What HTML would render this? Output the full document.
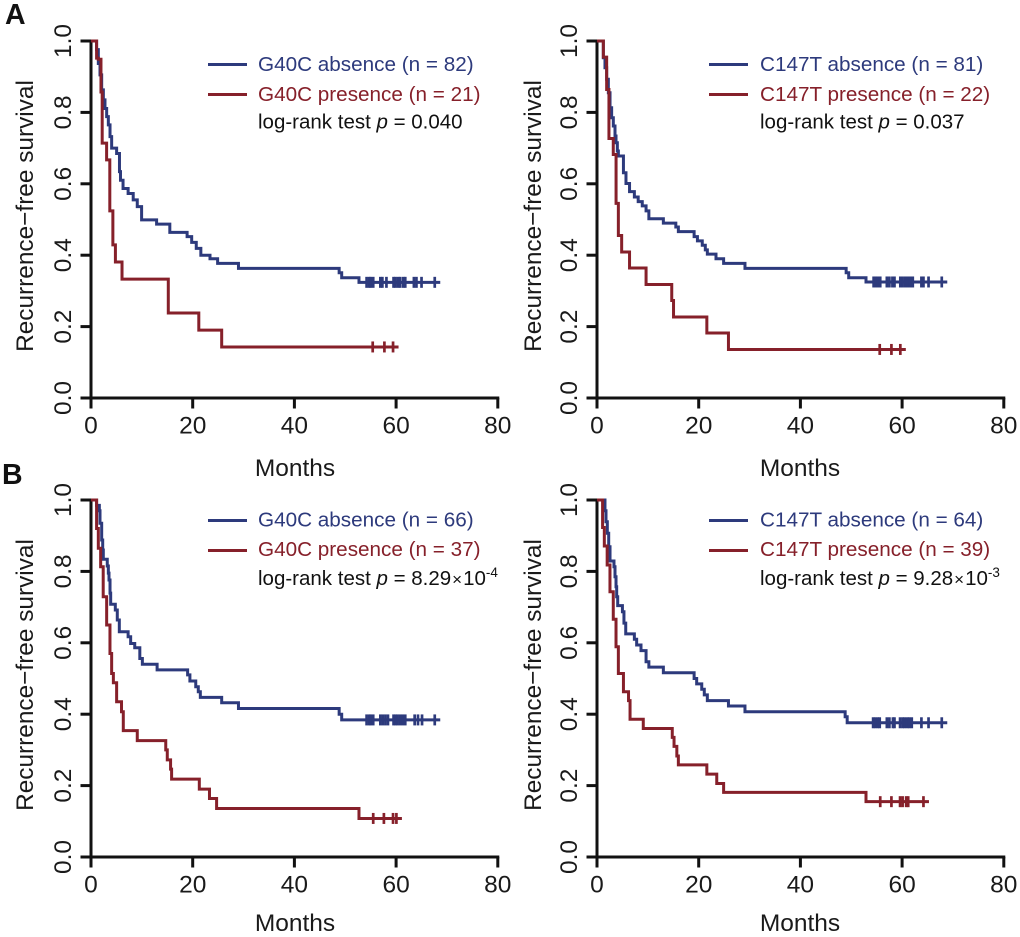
<!DOCTYPE html>
<html lang="en">
<head>
<meta charset="utf-8">
<title>Recurrence-free survival curves</title>
<style>
  html, body { margin: 0; padding: 0; background: #ffffff; }
  svg { display: block; font-family: "Liberation Sans", Arial, sans-serif; }
  .tick-label { font-size: 24.5px; fill: #1a1a1a; }
  .axis-title { font-size: 24.5px; fill: #1a1a1a; }
  .y-title { font-size: 24.4px; fill: #1a1a1a; }
  .legend { font-size: 20.7px; }
  .blue-text { fill: #2d3a7c; }
  .red-text { fill: #86202a; }
  .stat { font-size: 20.5px; fill: #111111; }
  .panel-letter { font-size: 28.5px; font-weight: bold; fill: #111111; }
</style>
</head>
<body>
<svg id="figure" xmlns="http://www.w3.org/2000/svg" width="1020" height="937" viewBox="0 0 1020 937">
  <rect x="0" y="0" width="1020" height="937" fill="#ffffff"/>
  <text class="panel-letter" x="5" y="24">A</text>
  <text class="panel-letter" x="2" y="484">B</text>

  <g id="panel-a-left">
    <text class="y-title" transform="translate(33,216) rotate(-90)" text-anchor="middle">Recurrence−free survival</text>
    <text class="axis-title" x="295" y="476" text-anchor="middle">Months</text>
    <line x1="208" x2="247" y1="64.5" y2="64.5" stroke="#2d3a7c" stroke-width="3"/>
    <line x1="208" x2="247" y1="94.5" y2="94.5" stroke="#86202a" stroke-width="3"/>
    <text class="legend blue-text" x="258" y="71">G40C absence (n = 82)</text>
    <text class="legend red-text" x="258" y="101">G40C presence (n = 21)</text>
    <text class="stat" x="258" y="128.5">log-rank test <tspan font-style="italic">p</tspan> = 0.040</text>
  </g>

  <g id="panel-a-right">
    <text class="y-title" transform="translate(541,216) rotate(-90)" text-anchor="middle">Recurrence−free survival</text>
    <text class="axis-title" x="800" y="476" text-anchor="middle">Months</text>
    <line x1="709" x2="748" y1="64.5" y2="64.5" stroke="#2d3a7c" stroke-width="3"/>
    <line x1="709" x2="748" y1="94.5" y2="94.5" stroke="#86202a" stroke-width="3"/>
    <text class="legend blue-text" x="760" y="71">C147T absence (n = 81)</text>
    <text class="legend red-text" x="760" y="101">C147T presence (n = 22)</text>
    <text class="stat" x="760" y="128.5">log-rank test <tspan font-style="italic">p</tspan> = 0.037</text>
  </g>

  <g id="panel-b-left">
    <text class="y-title" transform="translate(33,675) rotate(-90)" text-anchor="middle">Recurrence−free survival</text>
    <text class="axis-title" x="295" y="931" text-anchor="middle">Months</text>
    <line x1="208" x2="247" y1="520.5" y2="520.5" stroke="#2d3a7c" stroke-width="3"/>
    <line x1="208" x2="247" y1="550.5" y2="550.5" stroke="#86202a" stroke-width="3"/>
    <text class="legend blue-text" x="258" y="526.5">G40C absence (n = 66)</text>
    <text class="legend red-text" x="258" y="556">G40C presence (n = 37)</text>
    <text class="stat" x="258" y="585">log-rank test <tspan font-style="italic">p</tspan> = 8.29<tspan font-size="17" dx="1">×</tspan><tspan dx="1">10</tspan><tspan font-size="13.5" dy="-8">-4</tspan></text>
  </g>

  <g id="panel-b-right">
    <text class="y-title" transform="translate(541,675) rotate(-90)" text-anchor="middle">Recurrence−free survival</text>
    <text class="axis-title" x="800" y="931" text-anchor="middle">Months</text>
    <line x1="709" x2="748" y1="520.5" y2="520.5" stroke="#2d3a7c" stroke-width="3"/>
    <line x1="709" x2="748" y1="550.5" y2="550.5" stroke="#86202a" stroke-width="3"/>
    <text class="legend blue-text" x="760" y="526.5">C147T absence (n = 64)</text>
    <text class="legend red-text" x="760" y="556">C147T presence (n = 39)</text>
    <text class="stat" x="760" y="585">log-rank test <tspan font-style="italic">p</tspan> = 9.28<tspan font-size="17" dx="1">×</tspan><tspan dx="1">10</tspan><tspan font-size="13.5" dy="-8">-3</tspan></text>
  </g>
</svg>

<script>
// Axis tick labels
var xTickValues = [0, 20, 40, 60, 80];
var yTickValues = [0.0, 0.2, 0.4, 0.6, 0.8, 1.0];
var yTickLabels = ['0.0', '0.2', '0.4', '0.6', '0.8', '1.0'];

// Panel A, G40C: absence
var aLeftBlueTimes = [1.1, 1.44, 1.77, 2.1, 2.43, 2.75, 3.08, 3.41, 3.74, 4.06, 5.04, 5.6, 5.8, 6.3, 7.3, 8.3, 9.1, 9.95, 12.9, 15.5, 18.9, 19.8, 20.7, 21.6, 23.4, 24.9, 29.0, 48.8, 49.3, 52.7];
var aLeftBlueSurv = [0.976, 0.937, 0.905, 0.863, 0.835, 0.811, 0.788, 0.765, 0.732, 0.70, 0.685, 0.634, 0.61, 0.587, 0.573, 0.555, 0.536, 0.499, 0.487, 0.464, 0.452, 0.436, 0.419, 0.40, 0.39, 0.377, 0.363, 0.351, 0.337, 0.324];
var aLeftBlueCensor = [54.2, 54.7, 55.0, 55.5, 56.9, 57.3, 58.1, 59.5, 59.9, 60.4, 60.8, 61.4, 61.8, 63.5, 64.0, 65.0, 67.6];
// Panel A, G40C: presence
var aLeftRedTimes = [1.1, 1.44, 1.96, 2.2, 3.07, 3.7, 4.3, 4.8, 6.1, 15.2, 21.2, 25.7];
var aLeftRedSurv = [0.952, 0.949, 0.857, 0.714, 0.667, 0.524, 0.429, 0.381, 0.333, 0.238, 0.19, 0.143];
var aLeftRedCensor = [55.4, 57.7, 59.4];

// Panel A, C147T: absence
var aRightBlueTimes = [1.24, 1.57, 1.9, 2.23, 2.56, 2.88, 3.21, 3.54, 3.74, 4.0, 4.2, 5.2, 5.7, 6.4, 7.35, 8.1, 8.9, 9.65, 10.2, 13.05, 15.5, 16.0, 19.1, 19.75, 20.7, 21.3, 21.7, 23.4, 24.9, 29.1, 49.0, 49.5, 52.9];
var aRightBlueSurv = [0.953, 0.925, 0.893, 0.855, 0.813, 0.785, 0.762, 0.734, 0.715, 0.692, 0.678, 0.631, 0.601, 0.578, 0.563, 0.55, 0.538, 0.524, 0.502, 0.49, 0.479, 0.466, 0.452, 0.44, 0.428, 0.415, 0.403, 0.39, 0.377, 0.363, 0.351, 0.337, 0.325];
var aRightBlueCensor = [54.4, 54.85, 55.25, 55.7, 57.0, 57.5, 58.1, 58.5, 59.65, 60.1, 60.6, 61.1, 61.6, 62.1, 63.8, 64.2, 65.2, 67.8];
// Panel A, C147T: presence
var aRightRedTimes = [1.25, 1.9, 2.35, 3.2, 3.75, 4.2, 4.85, 6.4, 9.65, 14.7, 15.05, 21.6, 25.85];
var aRightRedSurv = [0.955, 0.864, 0.727, 0.682, 0.545, 0.455, 0.409, 0.364, 0.318, 0.273, 0.227, 0.182, 0.136];
var aRightRedCensor = [55.6, 57.9, 59.65];

// Panel B, G40C: absence
var bLeftBlueTimes = [1.1, 1.64, 1.77, 2.1, 2.3, 2.42, 3.2, 3.41, 3.54, 3.74, 3.87, 4.78, 5.17, 5.57, 7.3, 7.8, 8.6, 9.6, 10.1, 13.0, 19.0, 19.45, 20.6, 21.1, 21.5, 25.7, 29.0, 48.8, 49.3];
var bLeftBlueSurv = [0.985, 0.97, 0.935, 0.888, 0.86, 0.834, 0.815, 0.795, 0.776, 0.739, 0.708, 0.692, 0.664, 0.631, 0.617, 0.598, 0.586, 0.556, 0.54, 0.524, 0.51, 0.493, 0.477, 0.463, 0.447, 0.432, 0.416, 0.40, 0.384];
var bLeftBlueCensor = [54.2, 54.7, 55.0, 55.5, 56.9, 57.4, 57.9, 58.4, 59.5, 59.9, 60.3, 60.8, 61.3, 61.8, 63.65, 64.3, 65.1, 67.6];
// Panel B, G40C: presence
var bLeftRedTimes = [1.1, 1.44, 1.9, 2.4, 3.08, 3.73, 4.06, 4.4, 5.04, 6.0, 6.35, 9.1, 14.7, 15.0, 15.65, 15.85, 21.3, 23.3, 24.7, 52.7];
var bLeftRedSurv = [0.92, 0.865, 0.813, 0.729, 0.65, 0.57, 0.514, 0.488, 0.435, 0.407, 0.354, 0.326, 0.30, 0.272, 0.246, 0.218, 0.19, 0.164, 0.136, 0.108];
var bLeftRedCensor = [55.5, 57.6, 59.4, 60.06];

// Panel B, C147T: absence
var bRightBlueTimes = [1.57, 1.77, 2.03, 2.3, 2.56, 3.34, 3.54, 3.74, 3.87, 4.07, 5.0, 5.3, 5.65, 7.35, 7.8, 8.65, 9.65, 10.2, 13.05, 19.1, 19.6, 20.6, 21.1, 21.7, 25.85, 29.1, 48.8, 49.2];
var bRightBlueSurv = [0.97, 0.939, 0.907, 0.869, 0.829, 0.813, 0.785, 0.757, 0.729, 0.704, 0.687, 0.655, 0.625, 0.61, 0.594, 0.578, 0.547, 0.532, 0.516, 0.50, 0.485, 0.47, 0.454, 0.438, 0.423, 0.407, 0.393, 0.376];
var bRightBlueCensor = [54.3, 54.7, 55.2, 55.6, 57.0, 57.5, 58.2, 58.5, 59.6, 60.1, 60.5, 61.0, 61.4, 61.9, 63.8, 65.2, 67.8];
// Panel B, C147T: presence
var bRightRedTimes = [1.1, 1.44, 2.0, 2.55, 3.2, 3.74, 4.2, 5.2, 6.2, 6.5, 9.1, 14.8, 15.15, 15.7, 16.0, 21.6, 23.55, 24.9, 52.9];
var bRightRedSurv = [0.923, 0.871, 0.818, 0.743, 0.666, 0.589, 0.514, 0.463, 0.438, 0.386, 0.36, 0.335, 0.31, 0.283, 0.258, 0.232, 0.206, 0.181, 0.155];
var bRightRedCensor = [55.7, 57.9, 59.6, 60.1, 60.8, 61.2, 64.2];

var SVG_NS = 'http://www.w3.org/2000/svg';
var BLUE = '#2d3a7c';
var RED = '#86202a';
var AXIS = '#111111';

function make(tag, attrs, parent) {
  var node = document.createElementNS(SVG_NS, tag);
  for (var key in attrs) { node.setAttribute(key, attrs[key]); }
  parent.appendChild(node);
  return node;
}

function drawAxes(group, xScale, yScale) {
  var axisLeft = xScale(0);
  var axisBottom = yScale(0);

  var yLine = make('line', { x1: axisLeft, x2: axisLeft, y1: yScale(1) - 1.5, y2: axisBottom + 1.5, stroke: AXIS, 'stroke-width': 3 }, group);
  
  

  var xLine = make('line', { x1: axisLeft - 1.5, x2: xScale(80) + 1.5, y1: axisBottom, y2: axisBottom, stroke: AXIS, 'stroke-width': 3 }, group);
  
  

  xTickValues.forEach(function (value) {
    var tick = make('line', { x1: xScale(value), x2: xScale(value), y1: axisBottom, y2: axisBottom + 10.5, stroke: AXIS, 'stroke-width': 3 }, group);
    
    
    var label = make('text', { x: xScale(value), y: axisBottom + 35.5, 'text-anchor': 'middle', 'class': 'tick-label' }, group);
    label.textContent = String(value);
    
    
  });

  yTickValues.forEach(function (value, i) {
    var tick = make('line', { x1: axisLeft - 10.5, x2: axisLeft, y1: yScale(value), y2: yScale(value), stroke: AXIS, 'stroke-width': 3 }, group);
    
    
    var label = make('text', { transform: 'translate(' + (axisLeft - 20) + ',' + yScale(value) + ') rotate(-90)', 'text-anchor': 'middle', 'class': 'tick-label' }, group);
    label.textContent = yTickLabels[i];
    
    
  });
}

function drawSeries(group, xScale, yScale, times, surv, censor, color, seriesName) {
  var path = 'M' + xScale(0) + ' ' + yScale(1);
  for (var i = 0; i < times.length; i++) {
    path += 'H' + xScale(times[i]).toFixed(2) + 'V' + yScale(surv[i]).toFixed(2);
  }
  var lastSurv = surv[surv.length - 1];
  var lastCensor = censor[censor.length - 1];
  path += 'H' + (xScale(lastCensor) + 5.5).toFixed(2);

  var curve = make('path', { d: path, fill: 'none', stroke: color, 'stroke-width': 3, 'stroke-linejoin': 'miter' }, group);
  
  

  censor.forEach(function (t) {
    var mark = make('line', { x1: xScale(t), x2: xScale(t), y1: yScale(lastSurv) - 5.5, y2: yScale(lastSurv) + 5.5, stroke: color, 'stroke-width': 2.7 }, group);
    
    
  });
}

function drawPanel(id, left, top, blueT, blueS, blueC, redT, redS, redC) {
  var group = document.getElementById(id);
  var xScale = function (t) { return left + t * 5.085; };
  var yScale = function (s) { return top + (1 - s) * 357; };
  drawAxes(group, xScale, yScale);
  drawSeries(group, xScale, yScale, blueT, blueS, blueC, BLUE, 'absence');
  drawSeries(group, xScale, yScale, redT, redS, redC, RED, 'presence');
}

drawPanel('panel-a-left', 91, 41, aLeftBlueTimes, aLeftBlueSurv, aLeftBlueCensor, aLeftRedTimes, aLeftRedSurv, aLeftRedCensor);
drawPanel('panel-a-right', 597, 41, aRightBlueTimes, aRightBlueSurv, aRightBlueCensor, aRightRedTimes, aRightRedSurv, aRightRedCensor);
drawPanel('panel-b-left', 91, 500, bLeftBlueTimes, bLeftBlueSurv, bLeftBlueCensor, bLeftRedTimes, bLeftRedSurv, bLeftRedCensor);
drawPanel('panel-b-right', 597, 500, bRightBlueTimes, bRightBlueSurv, bRightBlueCensor, bRightRedTimes, bRightRedSurv, bRightRedCensor);
</script>
</body>
</html>
